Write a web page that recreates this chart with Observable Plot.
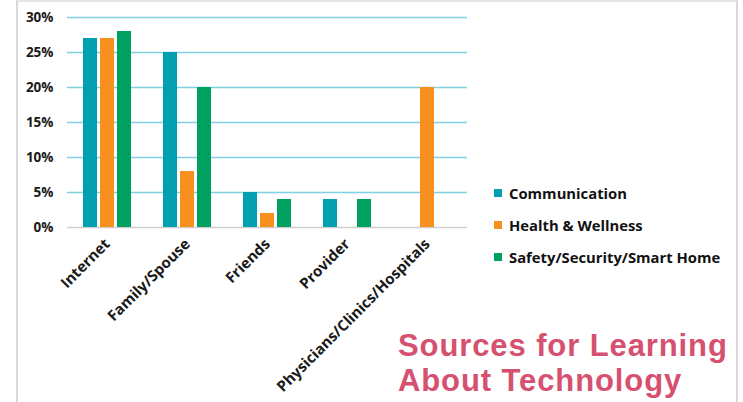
<!DOCTYPE html>
<html>
<head>
<meta charset="utf-8">
<script src="https://cdn.jsdelivr.net/npm/d3@7"></script>
<script src="https://cdn.jsdelivr.net/npm/@observablehq/plot@0.6"></script>
<style>
  html, body { margin: 0; padding: 0; background: #fff; }
  #wrap { position: relative; width: 743px; height: 402px; overflow: hidden; font-family: "Open Sans", sans-serif; }
  #frame { position: absolute; left: 16px; top: 0; width: 722px; height: 402px; border-left: 2px solid #d9d9d9; border-right: 2px solid #d9d9d9; border-top: 2px solid #e6e6e6; box-sizing: border-box; pointer-events: none; }
  #legend { position: absolute; left: 494px; top: 177px; font-weight: 700; font-size: 14.8px; color: #111; }
  .row { display: flex; align-items: center; height: 32px; }
  .sw { width: 8px; height: 8px; margin-right: 7px; }
  .title { position: absolute; left: 398px; font-family: "Liberation Sans", Arial, sans-serif; font-weight: 700; font-size: 31px; line-height: 31px; letter-spacing: 0.9px; color: #d6506f; white-space: nowrap; }
  svg g[aria-label^="fx-axis"] text { font-size: 15px; }
</style>
</head>
<body>
<div id="wrap">
  <div id="chart"></div>
  <div id="frame"></div>
  <div id="legend"></div>
  <div class="title" style="top: 330px;">Sources for Learning</div>
  <div class="title" style="top: 365px;">About Technology</div>
</div>
<script>
const categories = ["Internet", "Family/Spouse", "Friends", "Provider", "Physicians/Clinics/Hospitals"];
const series = ["Communication", "Health & Wellness", "Safety/Security/Smart Home"];
const colors = ["#00a0b0", "#f7901e", "#00a060"];
const communication = [27, 25, 5, 4, 0];
const healthWellness = [27, 8, 2, 0, 20];
const safetySecurity = [28, 20, 4, 4, 0];
const yTicks = [0, 5, 10, 15, 20, 25, 30];

const seriesValues = [communication, healthWellness, safetySecurity];
const data = [];
categories.forEach((c, i) => {
  series.forEach((s, j) => {
    data.push({category: c, series: s, value: seriesValues[j][i]});
  });
});

const chart = Plot.plot({
  width: 743,
  height: 402,
  marginLeft: 67,
  marginRight: 276,
  marginTop: 17,
  marginBottom: 175,
  style: {fontFamily: "Open Sans, sans-serif", fontWeight: 700, fontSize: "13.5px", color: "#1a1a1a", background: "transparent"},
  facet: {data, x: "category"},
  fx: {domain: categories, padding: 0, label: null, axis: "bottom", tickRotate: -45, tickSize: 0, tickPadding: 14},
  x: {domain: series, axis: null, paddingInner: 0.2, paddingOuter: 0.85},
  y: {domain: [0, 30], ticks: yTicks, tickFormat: d => d + "%", tickSize: 0, tickPadding: 14, label: null},
  color: {domain: series, range: colors},
  marks: [
    Plot.ruleY(yTicks.filter(d => d > 0), {stroke: "#7fd0e2", strokeWidth: 1.5}),
    Plot.ruleY([0], {stroke: "#d0d0d0", strokeWidth: 1.5}),
    Plot.barY(data, {x: "series", y: "value", fill: "series"})
  ]
});
document.getElementById("chart").appendChild(chart);

const legend = document.getElementById("legend");
series.forEach((s, j) => {
  const row = document.createElement("div");
  row.className = "row";
  const sw = document.createElement("span");
  sw.className = "sw";
  sw.style.background = colors[j];
  const t = document.createElement("span");
  t.textContent = s;
  row.appendChild(sw);
  row.appendChild(t);
  legend.appendChild(row);
});
</script>
</body>
</html>
